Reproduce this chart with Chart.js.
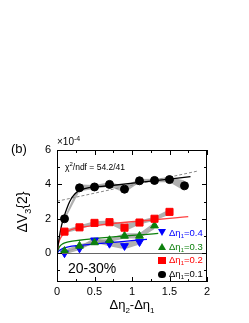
<!DOCTYPE html>
<html>
<head>
<meta charset="utf-8">
<script src="https://cdn.jsdelivr.net/npm/chart.js@4"></script>
<style>
  html, body { margin: 0; padding: 0; background: #fff; }
  #wrap { position: relative; width: 249px; height: 323px; }
  canvas { display: block; }
  .lg { position: absolute; font: 9.5px "Liberation Sans", Arial, sans-serif; line-height: 11px; white-space: nowrap; }
  .lg sub { font-size: 6px; vertical-align: -2px; line-height: 0; }
  .mk { position: absolute; }
</style>
</head>
<body>
<div id="wrap">
  <canvas id="c" width="249" height="323"></canvas>
  <div id="legend"></div>
</div>
<script>
// data (units of 1e-4)
const dEta = [0.1, 0.3, 0.5, 0.7, 0.9, 1.1, 1.3, 1.5, 1.7];
const v01 = [2.0, 3.8, 3.85, 4.0, 3.72, 4.21, 4.23, 4.28, 3.92];
const v02 = [1.25, 1.5, 1.76, 1.8, 1.48, 1.78, 2.0, 2.4];
const v03 = [0.12, 0.42, 0.62, 0.75, 1.0, 1.0, 1.6];
const v04 = [0.0, 0.28, 0.75, 0.55, 0.42, 0.65];
// systematic band half widths
const sys01 = [0.1, 0.2, 0.12, 0.12, 0.2, 0.1, 0.1, 0.15, 0.3];
const sys02 = [0.1, 0.12, 0.1, 0.1, 0.22, 0.12, 0.12, 0.15];
const sys03 = [0.08, 0.1, 0.1, 0.1, 0.15, 0.15, 0.2];
const sys04 = [0.08, 0.1, 0.15, 0.15, 0.2, 0.15];
// fit curves
const fitX01 = [0, 0.03, 0.06, 0.1, 0.17, 0.24, 0.37, 0.7, 1.1, 1.78];
const fitY01 = [0, 0.9, 1.6, 2.2, 3.0, 3.45, 3.75, 3.92, 4.12, 4.45];
const fitX02 = [0, 0.02, 0.05, 0.1, 0.2, 0.3, 0.5, 1.75];
const fitY02 = [0, 0.55, 0.9, 1.15, 1.38, 1.48, 1.6, 2.12];
const fitX03 = [0, 0.03, 0.08, 0.15, 0.3, 1.35];
const fitY03 = [0, 0.35, 0.55, 0.65, 0.75, 1.15];
const fitX04 = [0, 0.03, 0.08, 0.15, 0.3, 1.2];
const fitY04 = [0, 0.15, 0.28, 0.37, 0.45, 0.8];
const dashX = [0, 1.87];
const dashY = [3.02, 4.77];
const xTicks = [0, 0.5, 1, 1.5, 2];
const yTicks = [0, 2, 4, 6];
const legendLabels = ['0.4', '0.3', '0.2', '0.1'];

const BLACK = '#000000', RED = '#ff0000', GREEN = '#0d800d', BLUE = '#0000ff';
const BAND = 'rgba(150,150,150,0.75)';
const FONT = '"Liberation Sans", Arial, sans-serif';

const pts = (xs, ys) => ys.map((y, i) => ({ x: xs[i], y }));
const shift = (ys, s, k) => ys.map((y, i) => y + k * s[i]);

function markers(label, ys, color, style, radius, rotation) {
  return {
    label, data: pts(dEta, ys), showLine: false, fill: false,
    pointStyle: style, pointRadius: radius, pointRotation: rotation || 0,
    backgroundColor: color, borderColor: color, borderWidth: 1
  };
}
function curve(xs, ys, color, extra) {
  return Object.assign({
    data: pts(xs, ys), showLine: true, pointRadius: 0, borderColor: color,
    borderWidth: 1.3, cubicInterpolationMode: 'monotone', fill: false
  }, extra || {});
}
function band(ys, s) {
  return [
    { data: pts(dEta, shift(ys, s, -1)), showLine: true, pointRadius: 0, borderWidth: 0,
      borderColor: 'rgba(0,0,0,0)', fill: false },
    { data: pts(dEta, shift(ys, s, 1)), showLine: true, pointRadius: 0, borderWidth: 0,
      borderColor: 'rgba(0,0,0,0)', backgroundColor: BAND, fill: '-1' }
  ];
}

const datasets = [
  markers('0.1', v01, BLACK, 'circle', 4),
  markers('0.2', v02, RED, 'rect', 5),
  markers('0.3', v03, GREEN, 'triangle', 4.5),
  markers('0.4', v04, BLUE, 'triangle', 4.5, 180),
  curve(fitX01, fitY01, BLACK),
  curve(fitX02, fitY02, '#ff4040'),
  curve(fitX03, fitY03, GREEN),
  curve(fitX04, fitY04, BLUE),
  curve(dashX, dashY, '#888888', { borderDash: [3, 2], borderWidth: 1, cubicInterpolationMode: 'default' })
];
// bands at the end so they are painted first
[[v01, sys01], [v02, sys02], [v03, sys03], [v04, sys04]].forEach(([v, s]) => {
  datasets.push(...band(v, s));
});

function text(ctx, str, x, y, size, color) {
  ctx.font = size + 'px ' + FONT;
  ctx.fillStyle = color || '#000';
  ctx.textAlign = 'left';
  ctx.textBaseline = 'alphabetic';
  ctx.fillText(str, x, y);
  return ctx.measureText(str).width;
}
// draws pieces [str, ''|'sub'|'sup'] one after another
function rich(ctx, parts, x, y, size, color) {
  let cx = x;
  parts.forEach(([s, kind]) => {
    if (kind === 'sub') cx += text(ctx, s, cx, y + size * 0.3, Math.round(size * 0.65), color);
    else if (kind === 'sup') cx += text(ctx, s, cx, y - size * 0.45, Math.round(size * 0.65), color);
    else cx += text(ctx, s, cx, y, size, color);
  });
  return cx - x;
}
function richWidth(ctx, parts, size) {
  let w = 0;
  parts.forEach(([s, kind]) => {
    ctx.font = (kind ? Math.round(size * 0.65) : size) + 'px ' + FONT;
    w += ctx.measureText(s).width;
  });
  return w;
}

// legend as html on top of the canvas
(function buildLegend() {
  const styles = [
    [BLUE, 'down'], [GREEN, 'up'], [RED, 'rect'], [BLACK, 'circle']
  ];
  const box = document.getElementById('legend');
  legendLabels.forEach((lab, i) => {
    const [col, kind] = styles[i];
    const ly = 233 + i * 13.7;
    const mk = document.createElement('div');
    mk.className = 'mk';
    if (kind === 'rect' || kind === 'circle') {
      Object.assign(mk.style, { left: '158.4px', top: (ly - 3.6) + 'px', width: '7.2px', height: '7.2px',
        background: col, borderRadius: kind === 'circle' ? '50%' : '0' });
    } else {
      Object.assign(mk.style, { left: '157.5px', top: (ly - 3.8) + 'px', width: '0', height: '0',
        borderLeft: '4.5px solid transparent', borderRight: '4.5px solid transparent' });
      if (kind === 'down') mk.style.borderTop = '7.8px solid ' + col;
      else mk.style.borderBottom = '7.8px solid ' + col;
    }
    box.appendChild(mk);
    const t = document.createElement('div');
    t.className = 'lg';
    t.style.left = '169px';
    t.style.top = (ly - 6) + 'px';
    t.style.color = col;
    t.innerHTML = '\u0394\u03b7<sub>1</sub>=' + lab;
    box.appendChild(t);
  });
})();

const decor = {
  id: 'decor',
  afterDraw(chart) {
    const { ctx, chartArea: a, scales: { x, y } } = chart;
    ctx.save();

    // labels
    text(ctx, '(b)', 11, 153, 13);
    rich(ctx, [['\u00d710', ''], ['-4', 'sup']], 57, 145, 10);
    rich(ctx, [['\u03c7', ''], ['2', 'sup'], ['/ndf = 54.2/41', '']], 65, 170, 8.5);
    text(ctx, '20-30%', 68, 273, 14);

    // x title
    const xt = [['\u0394\u03b7', ''], ['2', 'sub'], ['-\u0394\u03b7', ''], ['1', 'sub']];
    const xw = richWidth(ctx, xt, 13);
    rich(ctx, xt, 132 - xw / 2, 309, 13);
    // y title, rotated
    const yt = [['\u0394V', ''], ['3', 'sub'], ['{2}', '']];
    const yw = richWidth(ctx, yt, 14);
    ctx.save();
    ctx.translate(27, 212);
    ctx.rotate(-Math.PI / 2);
    rich(ctx, yt, -yw / 2, 0, 14);
    ctx.restore();

    // zero line, frame and inward ticks
    ctx.strokeStyle = '#666';
    ctx.lineWidth = 1;
    const py0 = Math.round(y.getPixelForValue(0)) + 0.5;
    ctx.beginPath();
    ctx.moveTo(a.left, py0);
    ctx.lineTo(a.right, py0);
    ctx.stroke();

    ctx.strokeStyle = '#000';
    ctx.strokeRect(a.left + 0.5, a.top + 0.5, a.right - a.left - 1, a.bottom - a.top - 1);
    ctx.beginPath();
    for (let v = 0; v <= 2.0001; v += 0.25) {
      const px = Math.round(x.getPixelForValue(v)) + 0.5;
      const len = Math.abs(v * 2 - Math.round(v * 2)) < 1e-6 ? 5 : 3;
      ctx.moveTo(px, a.bottom); ctx.lineTo(px, a.bottom - len);
      ctx.moveTo(px, a.top); ctx.lineTo(px, a.top + len);
    }
    for (let v = -1; v <= 6; v += 1) {
      const py = Math.round(y.getPixelForValue(v)) + 0.5;
      const len = v % 2 === 0 ? 5 : 3;
      ctx.moveTo(a.left, py); ctx.lineTo(a.left + len, py);
      ctx.moveTo(a.right, py); ctx.lineTo(a.right - len, py);
    }
    ctx.stroke();
    ctx.beginPath();
    ctx.restore();
  }
};

new Chart(document.getElementById('c'), {
  type: 'scatter',
  data: { datasets },
  options: {
    responsive: false,
    animation: false,
    events: [],
    layout: { padding: { left: 0, top: 150, right: 42, bottom: 0 } },
    plugins: { legend: { display: false }, tooltip: { enabled: false } },
    scales: {
      x: {
        type: 'linear', min: 0, max: 2,
        afterBuildTicks: s => { s.ticks = xTicks.map(value => ({ value })); },
        afterFit: s => { s.height = 41; },
        grid: { display: false, drawTicks: false },
        border: { display: false },
        ticks: { padding: 3, color: '#000', font: { family: FONT, size: 11 },
                 callback: v => String(v) }
      },
      y: {
        type: 'linear', min: -1.68, max: 6,
        afterBuildTicks: s => { s.ticks = yTicks.map(value => ({ value })); },
        afterFit: s => { s.width = 57; },
        grid: { display: false, drawTicks: false },
        border: { display: false },
        ticks: { padding: 6, color: '#000', font: { family: FONT, size: 11 },
                 callback: v => String(v) }
      }
    }
  },
  plugins: [decor]
});
</script>
</body>
</html>
